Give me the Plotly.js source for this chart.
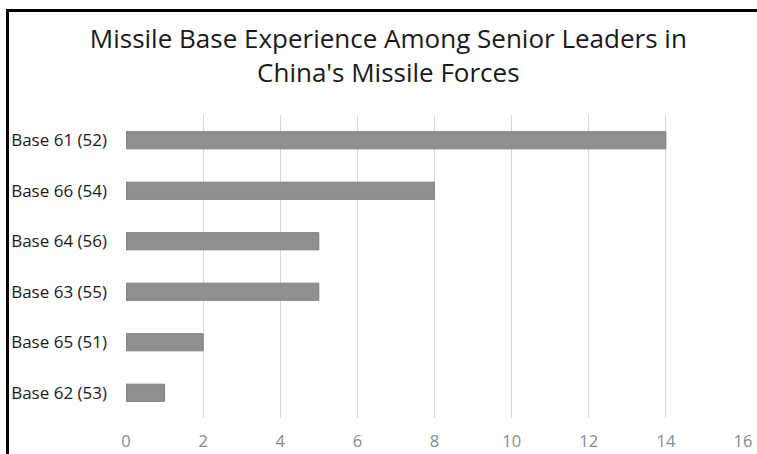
<!DOCTYPE html>
<html>
<head>
<meta charset="utf-8">
<script src="https://cdn.plot.ly/plotly-3.0.1.min.js"></script>
<style>
  html, body { margin: 0; padding: 0; background: #fff; }
  #wrap { position: relative; width: 757px; height: 454px; overflow: hidden; }
  #chart { position: absolute; left: 0; top: 0; width: 757px; height: 454px; }
  #frame { position: absolute; left: 6px; top: 9px; width: 800px; height: 500px;
           border-top: 3px solid #000; border-left: 3px solid #000; pointer-events: none; }
</style>
</head>
<body>
<div id="wrap">
  <div id="chart"></div>
  <div id="frame"></div>
</div>
<script>
const categories = ["Base 62 (53)", "Base 65 (51)", "Base 63 (55)", "Base 64 (56)", "Base 66 (54)", "Base 61 (52)"];
const leaders = [1, 2, 5, 5, 8, 14];
const xTicks = [0, 2, 4, 6, 8, 10, 12, 14, 16];

const trace = {
  type: "bar",
  orientation: "h",
  y: categories,
  x: leaders,
  marker: { color: "#8f8f8f", line: { color: "#808080", width: 1 } },
  hoverinfo: "x+y"
};

const layout = {
  width: 757,
  height: 454,
  margin: { l: 126, r: 14, t: 115, b: 36 },
  paper_bgcolor: "#ffffff",
  plot_bgcolor: "#ffffff",
  showlegend: false,
  bargap: 0.66,
  title: {
    text: "Missile Base Experience Among Senior Leaders in<br>China's Missile Forces",
    font: { family: "Open Sans", size: 26, color: "#1a1a1a" },
    x: 0.513, xref: "container", xanchor: "center",
    y: 0.894, yref: "container", yanchor: "middle"
  },
  xaxis: {
    range: [0, 16],
    tickvals: xTicks,
    ticktext: xTicks.map(String),
    showgrid: true,
    gridcolor: "#d9d9d9",
    gridwidth: 1,
    zeroline: false,
    showline: false,
    ticks: "outside",
    ticklen: 8,
    tickcolor: "rgba(0,0,0,0)",
    tickfont: { family: "Open Sans", size: 16.5, color: "#8a8a8a" },
    fixedrange: true
  },
  yaxis: {
    categoryorder: "array",
    categoryarray: categories,
    showgrid: false,
    zeroline: false,
    showline: false,
    ticks: "",
    ticklabelstandoff: 18,
    tickfont: { family: "Open Sans", size: 17, color: "#1a1a1a" },
    fixedrange: true
  }
};

Plotly.newPlot("chart", [trace], layout, { displayModeBar: false, staticPlot: true });
</script>
</body>
</html>
